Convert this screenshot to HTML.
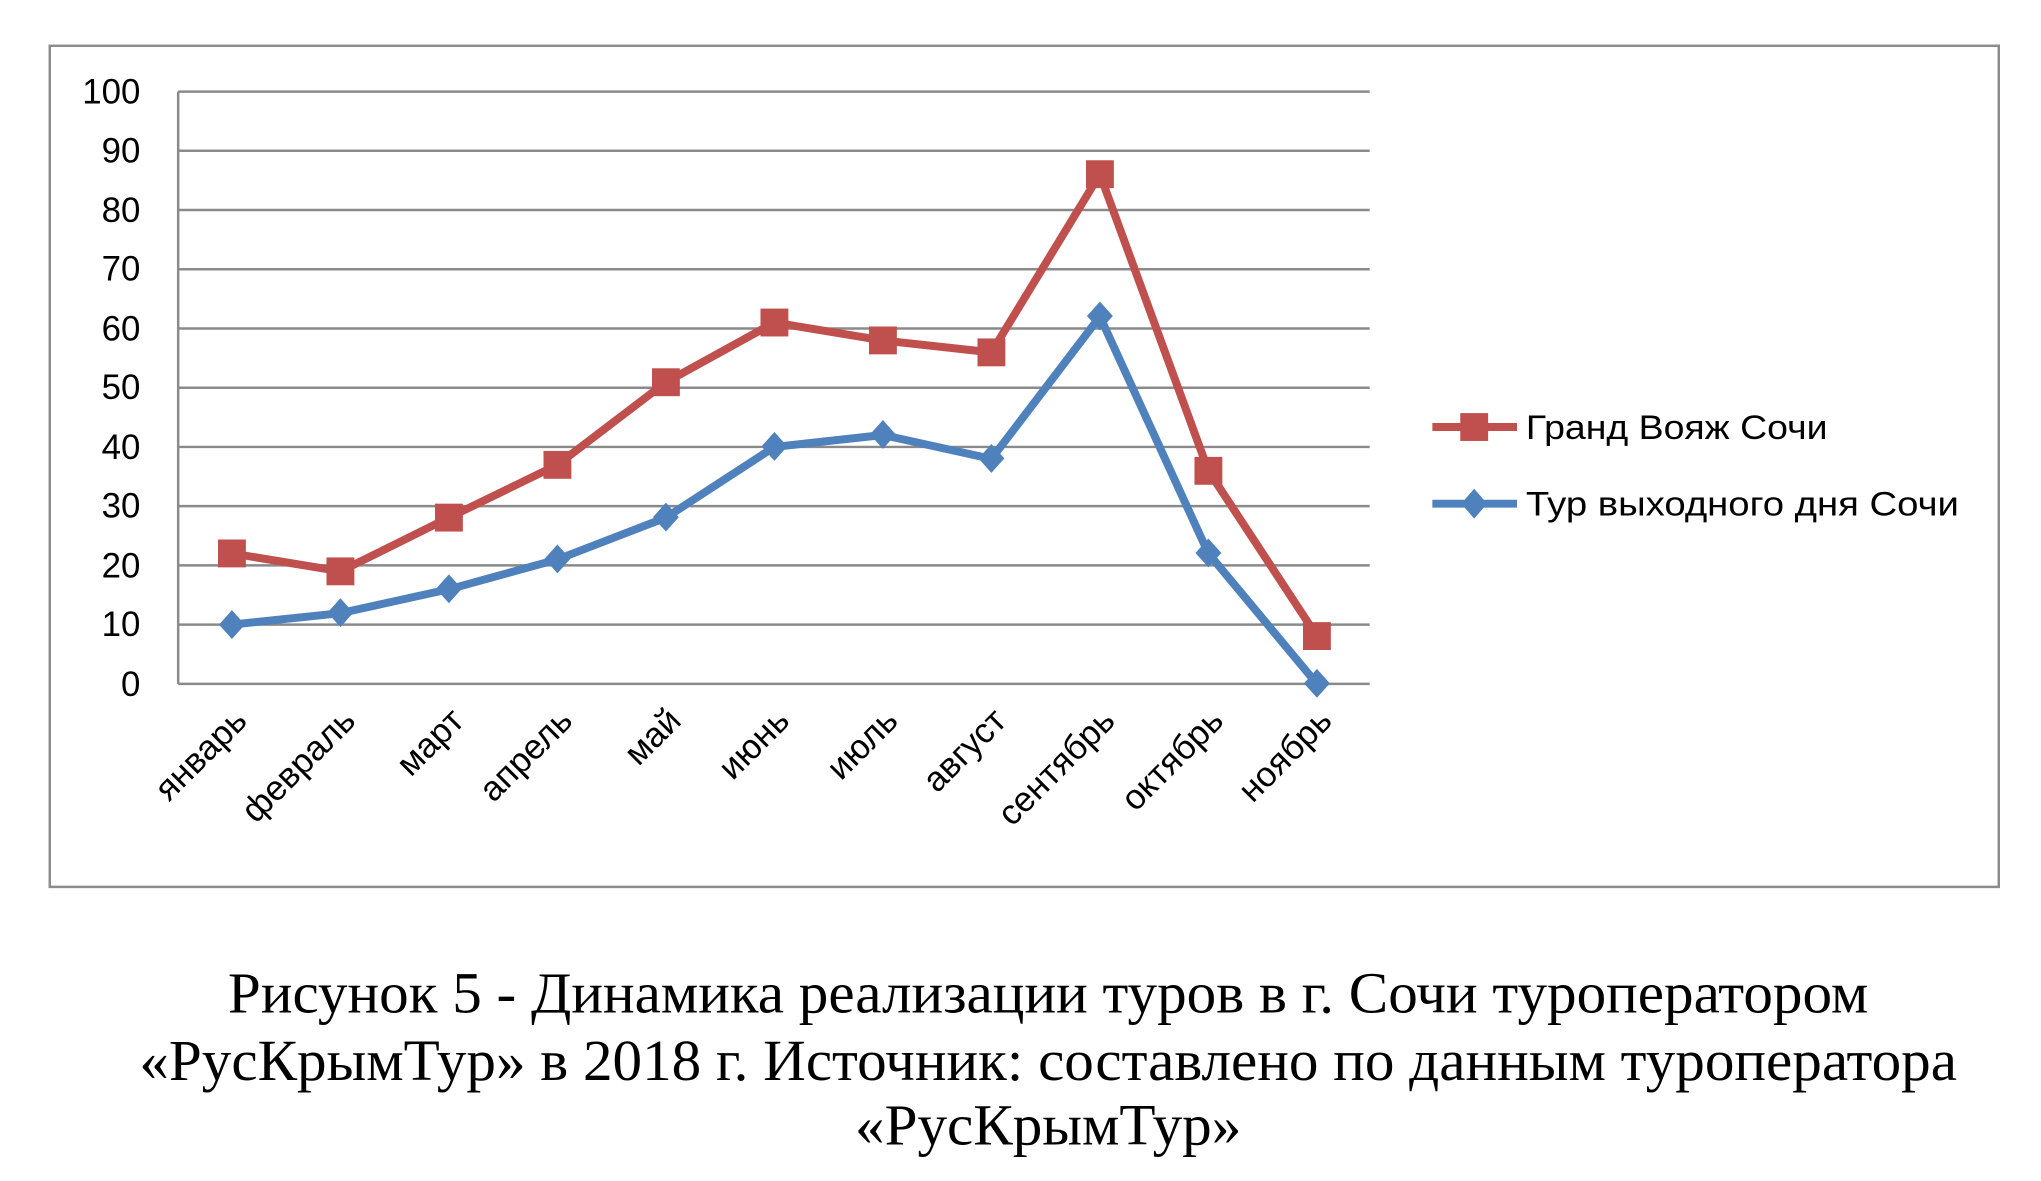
<!DOCTYPE html>
<html><head><meta charset="utf-8"><style>html,body{margin:0;padding:0;background:#fff}svg{display:block}</style></head>
<body>
<svg width="2041" height="1181" viewBox="0 0 2041 1181" xmlns="http://www.w3.org/2000/svg">
<g transform="scale(0.9954)">
<rect x="50" y="46" width="1958" height="845" fill="#fff" stroke="#8c8c8c" stroke-width="2.5"/>
<g stroke="#8a8a8a" stroke-width="2.5">
<line x1="179" y1="92" x2="1376" y2="92"/><line x1="179" y1="151.5" x2="1376" y2="151.5"/>
<line x1="179" y1="211" x2="1376" y2="211"/><line x1="179" y1="270.5" x2="1376" y2="270.5"/>
<line x1="179" y1="330" x2="1376" y2="330"/><line x1="179" y1="389.5" x2="1376" y2="389.5"/>
<line x1="179" y1="449" x2="1376" y2="449"/><line x1="179" y1="508.5" x2="1376" y2="508.5"/>
<line x1="179" y1="568" x2="1376" y2="568"/><line x1="179" y1="627.5" x2="1376" y2="627.5"/>
<line x1="179" y1="687" x2="1376" y2="687"/><line x1="179" y1="92" x2="179" y2="687"/>
</g>
<g font-family="Liberation Sans, DejaVu Sans, sans-serif" font-size="35" fill="#000" text-anchor="end">
<text x="141" y="104">100</text><text x="141" y="163">90</text><text x="141" y="223">80</text>
<text x="141" y="282">70</text><text x="141" y="342">60</text><text x="141" y="401">50</text>
<text x="141" y="461">40</text><text x="141" y="520">30</text><text x="141" y="580">20</text>
<text x="141" y="639">10</text><text x="141" y="699">0</text>
</g>
<g font-family="Liberation Sans, DejaVu Sans, sans-serif" font-size="35" fill="#000" text-anchor="end">
<text transform="translate(250,726) rotate(-45)">январь</text>
<text transform="translate(359,726) rotate(-45)">февраль</text>
<text transform="translate(468,726) rotate(-45)">март</text>
<text transform="translate(577,726) rotate(-45)">апрель</text>
<text transform="translate(686,726) rotate(-45)">май</text>
<text transform="translate(795,726) rotate(-45)">июнь</text>
<text transform="translate(904,726) rotate(-45)">июль</text>
<text transform="translate(1013,726) rotate(-45)">август</text>
<text transform="translate(1122,726) rotate(-45)">сентябрь</text>
<text transform="translate(1231,726) rotate(-45)">октябрь</text>
<text transform="translate(1340,726) rotate(-45)">ноябрь</text>
</g>
<polyline fill="none" stroke="#C0504D" stroke-width="8" stroke-linejoin="round" points="233,556 342,574 451,520 560,467 669,384 778,324 887,342 996,354 1105,175 1214,473 1323,639"/>
<g fill="#C0504D">
<rect x="219" y="542" width="28" height="28"/><rect x="328" y="560" width="28" height="28"/>
<rect x="437" y="506" width="28" height="28"/><rect x="546" y="453" width="28" height="28"/>
<rect x="655" y="370" width="28" height="28"/><rect x="764" y="310" width="28" height="28"/>
<rect x="873" y="328" width="28" height="28"/><rect x="982" y="340" width="28" height="28"/>
<rect x="1091" y="161" width="28" height="28"/><rect x="1200" y="459" width="28" height="28"/>
<rect x="1309" y="625" width="28" height="28"/>
</g>
<polyline fill="none" stroke="#4F81BD" stroke-width="8" stroke-linejoin="round" points="233,627.5 342,616 451,592 560,562 669,520 778,449 887,437 996,461 1105,318 1214,556 1323,687"/>
<g fill="#4F81BD">
<path d="M233,613 l13,14.5 -13,14.5 -13,-14.5z"/><path d="M342,601 l13,14.5 -13,14.5 -13,-14.5z"/>
<path d="M451,577 l13,14.5 -13,14.5 -13,-14.5z"/><path d="M560,547 l13,14.5 -13,14.5 -13,-14.5z"/>
<path d="M669,505 l13,14.5 -13,14.5 -13,-14.5z"/><path d="M778,434 l13,14.5 -13,14.5 -13,-14.5z"/>
<path d="M887,422 l13,14.5 -13,14.5 -13,-14.5z"/><path d="M996,446 l13,14.5 -13,14.5 -13,-14.5z"/>
<path d="M1105,303 l13,14.5 -13,14.5 -13,-14.5z"/><path d="M1214,541 l13,14.5 -13,14.5 -13,-14.5z"/>
<path d="M1323,672 l13,14.5 -13,14.5 -13,-14.5z"/>
</g>
<line x1="1439" y1="429" x2="1524" y2="429" stroke="#C0504D" stroke-width="8"/>
<rect x="1467" y="415" width="28" height="28" fill="#C0504D"/>
<line x1="1439" y1="506" x2="1524" y2="506" stroke="#4F81BD" stroke-width="8"/>
<path d="M1481,491 l13,15 -13,15 -13,-15z" fill="#4F81BD"/>
<g font-family="Liberation Sans, DejaVu Sans, sans-serif" font-size="34" fill="#000">
<text x="1533" y="441" textLength="303" lengthAdjust="spacingAndGlyphs">Гранд Вояж Сочи</text>
<text x="1533" y="518" textLength="435" lengthAdjust="spacingAndGlyphs">Тур выходного дня Сочи</text>
</g>
<g font-family="Liberation Serif, DejaVu Serif, serif" font-size="58" fill="#000" text-anchor="middle">
<text x="1053" y="1017" textLength="1648" lengthAdjust="spacingAndGlyphs">Рисунок 5 - Динамика реализации туров в г. Сочи туроператором</text>
<text x="1053" y="1085" textLength="1826" lengthAdjust="spacingAndGlyphs">«РусКрымТур» в 2018 г. Источник: составлено по данным туроператора</text>
<text x="1053" y="1150" textLength="388" lengthAdjust="spacingAndGlyphs">«РусКрымТур»</text>
</g>
</g>
</svg>
</body></html>
